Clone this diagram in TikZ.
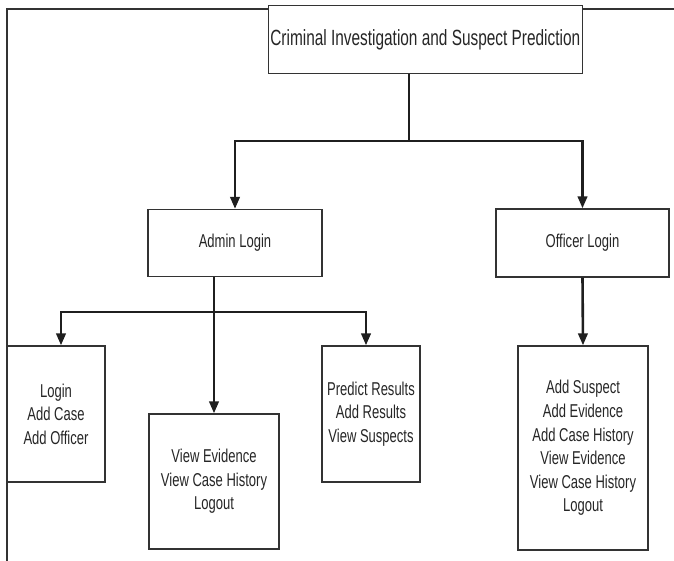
\documentclass[tikz,border=0pt]{standalone}
\usepackage{fontspec}
\setmainfont[FakeStretch=0.7]{Liberation Sans}
\usetikzlibrary{arrows.meta}
\tikzset{
	boite/.style={draw=black!80,line width=1.4pt,fill=white,align=center,text=black!85,inner sep=0pt,font=\fontsize{18.6}{23.6}\selectfont},
	fleche/.style={color=black!88,line width=2.6pt,>={Triangle[length=12pt,width=9.5pt]}}
}
\begin{document}
\begin{tikzpicture}[x=1pt,y=-1pt]
	\useasboundingbox (0,0) rectangle (674,561);
	\draw[color=black!80,line width=1.3pt] (674,9) -- (7,9) -- (7,561); % le cadre
	\node[boite,minimum width=314pt,minimum height=68pt,font=\fontsize{22}{26}\selectfont] (titre) at (425.3,39.4) {Criminal Investigation and Suspect Prediction};
	\node[boite,minimum width=174pt,minimum height=67pt] (admin) at (235,243) {Admin Login};
	\node[boite,minimum width=173pt,minimum height=68pt] (officier) at (582.5,243) {Officer Login};
	\node[boite,minimum width=98pt,minimum height=136pt] (gauche) at (56,414) {Login\\Add Case\\Add Officer};
	\node[boite,minimum width=130pt,minimum height=135pt] (vue) at (214,481.5) {View Evidence\\View Case History\\Logout};
	\node[boite,minimum width=98pt,minimum height=136pt] (droite) at (371,414) {Predict Results\\Add Results\\View Suspects};
	\node[boite,minimum width=130pt,minimum height=204pt] (offbas) at (583,448) {Add Suspect\\Add Evidence\\Add Case History\\View Evidence\\View Case History\\Logout};
	\coordinate (tronc) at (409,141);
	\coordinate (barre) at (214,312);
	\draw[fleche] (titre.south -| tronc) -- (tronc); % le tronc du haut
	\draw[fleche,->] (tronc) -| (admin.north);
	\draw[fleche,->] (tronc) -| (officier.north);
	\draw[fleche,->] (admin.south -| vue.north) -- (vue.north);
	\draw[fleche,->] (barre) -| ([xshift=5pt]gauche.north);
	\draw[fleche,->] (barre) -| ([xshift=-5pt]droite.north);
	\draw[fleche,->] (officier.south) -- (offbas.north);
\end{tikzpicture}
\end{document}
